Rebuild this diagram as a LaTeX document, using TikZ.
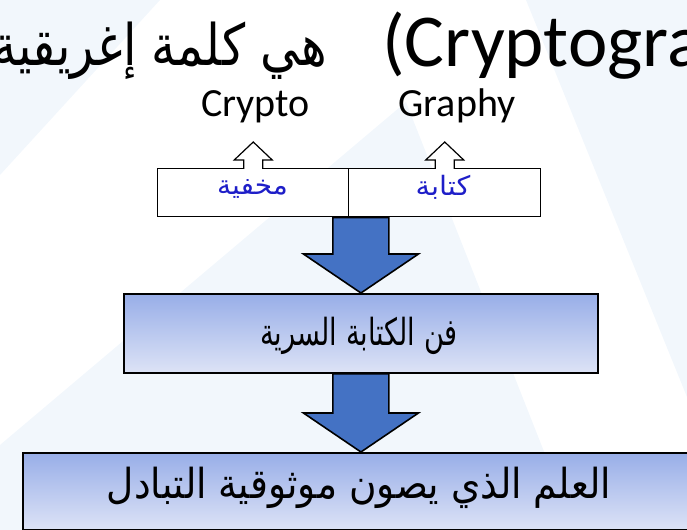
\documentclass[tikz,border=0pt]{standalone}
\usepackage{fontspec}
\setmainfont{Carlito}
\newfontfamily\arabicfont[Script=Arabic]{DejaVu Sans}
\TeXXeTstate=1
\usetikzlibrary{calc}
\definecolor{bgtri}{RGB}{242,247,252}
\definecolor{arrblue}{RGB}{68,114,196}
\definecolor{boxtop}{RGB}{152,174,232}
\definecolor{boxbot}{RGB}{221,227,246}
\definecolor{lblblue}{RGB}{30,30,200}
\newcommand{\artext}[3]{\resizebox{#1}{\height}{\fontsize{#2}{#2}\selectfont\arabicfont #3}}
\newcommand{\blockarrow}[2]{%
  \draw[blockarr] ($(#1)+(-28,0)$) -- ($(#2)+(-28,-39)$) -- ($(#2)+(-57.5,-39)$) -- (#2)
     -- ($(#2)+(57.5,-39)$) -- ($(#2)+(28,-39)$) -- ($(#1)+(28,0)$) -- cycle;}
\newcommand{\outuparrow}[1]{%
  \draw[outarr] ($(#1)+(-9.5,1)$) -- ($(#1)+(-9.5,-8)$) -- ($(#1)+(-19,-8)$) -- ($(#1)+(0,-26)$)
     -- ($(#1)+(19,-8)$) -- ($(#1)+(9.5,-8)$) -- ($(#1)+(9.5,1)$);}
\tikzset{
  whitebox/.style={draw=black, line width=1.1pt, fill=white, anchor=north west, inner sep=0pt,
     minimum width=143.25pt, minimum height=36pt},
  gradbox/.style={draw=black, line width=1.4pt, top color=boxtop, bottom color=boxbot,
     anchor=north west, inner sep=0pt},
  blockarr/.style={draw=black, line width=1.2pt, fill=arrblue, line join=miter},
  outarr/.style={draw=black, line width=0.9pt, fill=white, line join=miter},
  lbl/.style={inner sep=0pt, anchor=base},
}
\begin{document}
\begin{tikzpicture}[x=0.75pt, y=-0.75pt]
\useasboundingbox (0,0) rectangle (687,530);
\clip (0,0) rectangle (687,530);
% faint background triangles
\fill[bgtri] (0,0) -- (160,0) -- (0,175) -- cycle;
\fill[bgtri] (406,102) -- (0,445) -- (0,530) -- (575,530) -- cycle;
\fill[bgtri] (526,0) -- (687,0) -- (687,397) -- cycle;
% title
\node[inner sep=0pt, anchor=base west, font=\fontsize{56pt}{56pt}\selectfont] (tlat) at (382,67) {(Cryptogra};
\node[inner sep=0pt, anchor=base east] (tar) at (327,66) {\artext{251pt}{43pt}{\beginR هي كلمة إغريقية\endR}};
% Greek parts
\node[lbl, font=\fontsize{30pt}{30pt}\selectfont] (crypto) at (255.5,117) {Crypto};
\node[lbl, font=\fontsize{30pt}{30pt}\selectfont] (graphy) at (457,117) {Graphy};
% boxes
\node[whitebox] (bl) at (157,168) {};
\node[whitebox, minimum width=144pt] (br) at (348,168) {};
\node[gradbox, minimum width=355.5pt, minimum height=59.25pt] (b2) at (123,293) {};
\node[gradbox, minimum width=525pt, minimum height=57.75pt] (b3) at (22,452) {};
% labels
\node[lbl, text=lblblue] (lm) at (252.5,195) {\artext{53pt}{20pt}{\beginR مخفية\endR}};
\node[lbl, text=lblblue] (lk) at (443,196) {\artext{41pt}{20pt}{\beginR كتابة\endR}};
\node[lbl] (l2) at (359,346) {\artext{148pt}{28pt}{\beginR فن الكتابة السرية\endR}};
\node[lbl] (l3) at (359,499) {\artext{378pt}{31pt}{\beginR العلم الذي يصون موثوقية التبادل\endR}};
% outline arrows
\outuparrow{bl.north}
\outuparrow{br.north}
% block arrows
\blockarrow{b2.north |- bl.south}{b2.north}
\blockarrow{b2.south}{b2.south |- b3.north}
\end{tikzpicture}
\end{document}
